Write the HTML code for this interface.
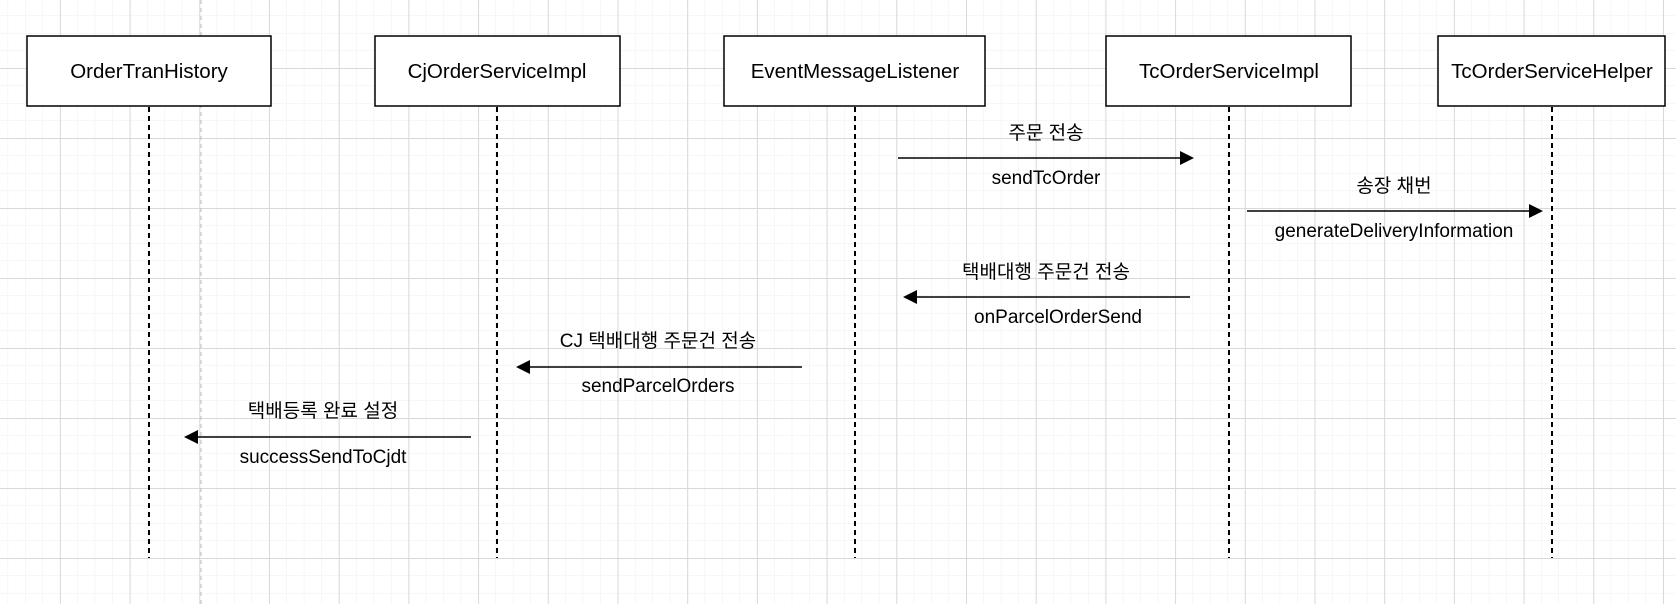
<!DOCTYPE html>
<html><head><meta charset="utf-8"><style>
html,body{margin:0;padding:0;background:#fff;}
svg{display:block;}
text{font-family:"Liberation Sans","Noto Sans CJK KR",sans-serif;fill:#000;}
</style></head><body>
<svg width="1676" height="604" viewBox="0 0 1676 604" xmlns="http://www.w3.org/2000/svg">
<defs>
<pattern id="minor" x="59.9" y="-2" width="17.425" height="17.5" patternUnits="userSpaceOnUse">
<path d="M0 0 V17.5 M0 0 H17.425" stroke="#efefef" stroke-width="1" fill="none"/>
</pattern>
<pattern id="major" x="59.9" y="-2" width="69.7" height="70" patternUnits="userSpaceOnUse">
<path d="M0.5 0 V70 M0 0.5 H69.7" stroke="#d9d9d9" stroke-width="1" fill="none"/>
</pattern>
</defs>
<rect width="1676" height="604" fill="#fff"/>
<rect width="1676" height="604" fill="url(#minor)"/>
<rect width="1676" height="604" fill="url(#major)"/>
<line x1="201" y1="0" x2="201" y2="604" stroke="#bdbdbd" stroke-width="1" stroke-dasharray="4,4"/>

<g stroke="#000" stroke-width="2" stroke-dasharray="5,4">
<line x1="149" y1="107" x2="149" y2="558"/>
<line x1="497" y1="107" x2="497" y2="558"/>
<line x1="855" y1="107" x2="855" y2="558"/>
<line x1="1229" y1="107" x2="1229" y2="558"/>
<line x1="1552" y1="107" x2="1552" y2="558"/>
</g>

<g fill="#fff" stroke="#000" stroke-width="1.5">
<rect x="27" y="36" width="244" height="70"/>
<rect x="375" y="36" width="245" height="70"/>
<rect x="724" y="36" width="261" height="70"/>
<rect x="1106" y="36" width="245" height="70"/>
<rect x="1438" y="36" width="227" height="70"/>
</g>
<g font-size="20.5" text-anchor="middle">
<text x="149" y="78">OrderTranHistory</text>
<text x="497" y="78">CjOrderServiceImpl</text>
<text x="855" y="78">EventMessageListener</text>
<text x="1229" y="78">TcOrderServiceImpl</text>
<text x="1552" y="78">TcOrderServiceHelper</text>
</g>

<g stroke="#000" stroke-width="1.5">
<line x1="898" y1="158" x2="1182" y2="158"/>
<line x1="1247" y1="211" x2="1531" y2="211"/>
<line x1="1190" y1="297" x2="915" y2="297"/>
<line x1="802" y1="367" x2="528" y2="367"/>
<line x1="471" y1="437" x2="196" y2="437"/>
</g>
<g fill="#000">
<polygon points="1194,158 1180,151 1180,165"/>
<polygon points="1543,211 1529,204 1529,218"/>
<polygon points="903,297 917,290 917,304"/>
<polygon points="516,367 530,360 530,374"/>
<polygon points="184,437 198,430 198,444"/>
</g>

<g font-size="19" text-anchor="middle">
<text x="1046" y="139">주문 전송</text>
<text x="1046" y="184">sendTcOrder</text>
<text x="1394" y="192">송장 채번</text>
<text x="1394" y="237">generateDeliveryInformation</text>
<text x="1046" y="278">택배대행 주문건 전송</text>
<text x="1058" y="323">onParcelOrderSend</text>
<text x="658" y="347">CJ 택배대행 주문건 전송</text>
<text x="658" y="392">sendParcelOrders</text>
<text x="323" y="417">택배등록 완료 설정</text>
<text x="323" y="463">successSendToCjdt</text>
</g>
</svg>
</body></html>
